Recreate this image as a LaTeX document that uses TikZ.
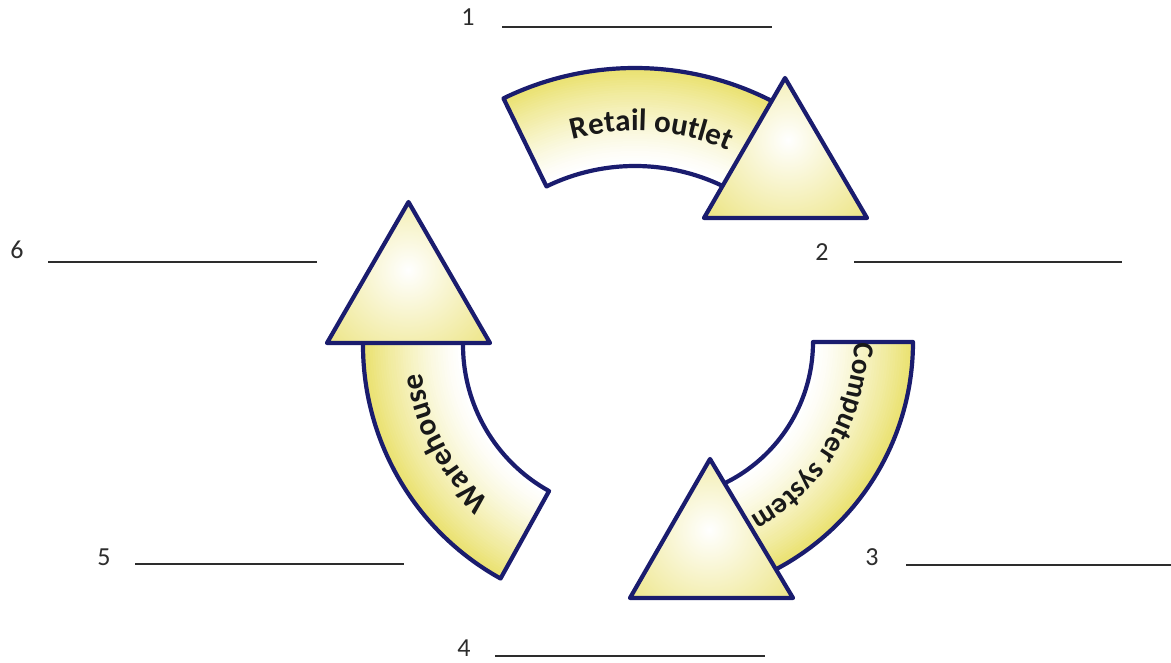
\documentclass[tikz,border=0pt]{standalone}
\usepackage{fontspec}
\setmainfont{Carlito}
\usetikzlibrary{decorations.text}
\definecolor{navy}{RGB}{26,28,110}
\definecolor{bandyel}{RGB}{233,224,105}
\definecolor{triyel}{RGB}{230,219,88}
\definecolor{linegray}{RGB}{45,45,45}
\newcommand\labfont{\bfseries\fontsize{31}{31}\selectfont}
\newcommand\labfontsm{\bfseries\fontsize{29}{29}\selectfont}
\tikzset{
  outline/.style={draw=navy, line width=4.2pt, line join=round},
  numlabel/.style={font=\fontsize{26}{26}\selectfont, text=linegray, inner sep=0pt},
  blank/.style={draw=linegray, line width=1.8pt},
  band/.style n args={4}{insert path={(#3:#1) arc[start angle=#3,end angle=#4,radius=#1] -- (#4:#2) arc[start angle=#4,end angle=#3,radius=#2] -- cycle}},
  bandtext/.style={decorate, decoration={text along path, text={#1}, text align=center, text color=black!90}},
}
\newcommand\bandfill[4]{%
  \begin{scope}
    \path[clip, band={#1}{#2}{#3}{#4}];
    \foreach \k in {0,...,40}{
      \pgfmathsetmacro\rr{#2+(#1-#2)*(1-\k/40)+3}
      \pgfmathtruncatemacro\pp{100*(1-\k/40)^1.3}
      \fill[bandyel!\pp!white] (0,0) circle[radius=\rr];
    }
  \end{scope}
  \draw[outline, band={#1}{#2}{#3}{#4}];
}
\newcommand\trifill[5]{% a b c highlight-x highlight-y
  \begin{scope}
    \clip (#1) -- (#2) -- (#3) -- cycle;
    \fill[triyel] (#1) -- (#2) -- (#3) -- cycle;
    \shade[inner color=white, outer color=triyel] (#4,#5) circle[radius=150];
  \end{scope}
  \draw[outline] (#1) -- (#2) -- (#3) -- cycle;
}
\begin{document}
\begin{tikzpicture}[x=1pt,y=1pt]
\useasboundingbox (0,0) rectangle (1171,662);
\fill[white] (0,0) rectangle (1171,662);

% Retail outlet arrow
\begin{scope}[shift={(635,294)}]
  \bandfill{300}{202}{116}{57}
\end{scope}
\coordinate (ra) at (704,444);
\coordinate (rb) at (867,444);
\coordinate (rc) at (785,584);
\trifill{ra}{rb}{rc}{788}{522}
\begin{scope}[shift={(635,294)}]
  \path[bandtext={|\labfont|Retail outlet}] (124:237) arc[start angle=124,end angle=48,radius=237];
\end{scope}

% Computer system arrow
\begin{scope}[shift={(656,320)}]
  \bandfill{257}{157}{0}{-70}
\end{scope}
\coordinate (ca) at (630,64);
\coordinate (cb) at (793,64);
\coordinate (cc) at (710,203);
\trifill{ca}{cb}{cc}{709}{132}
\begin{scope}[shift={(656,320)}]
  \path[bandtext={|\labfontsm|Computer system}] (5:198) arc[start angle=5,end angle=-67,radius=198];
\end{scope}

% Warehouse arrow
\begin{scope}[shift={(630,317)}]
  \bandfill{267}{167}{179}{241}
\end{scope}
\coordinate (wa) at (327,319);
\coordinate (wb) at (490,319);
\coordinate (wc) at (408.5,460);
\trifill{wa}{wb}{wc}{408}{392}
\begin{scope}[shift={(630,317)}]
  \path[bandtext={|\labfont|Warehouse}] (238:210) arc[start angle=238,end angle=178,radius=210];
\end{scope}

% numbered blanks
\node[numlabel] (n1) at (468,645) {1};
\coordinate (l1a) at (502,635); \coordinate (l1b) at (772,635);
\draw[blank] (l1a) -- (l1b);
\node[numlabel] (n2) at (822,410) {2};
\coordinate (l2a) at (854,400); \coordinate (l2b) at (1122,400);
\draw[blank] (l2a) -- (l2b);
\node[numlabel] (n3) at (872,105) {3};
\coordinate (l3a) at (906,97); \coordinate (l3b) at (1171,97);
\draw[blank] (l3a) -- (l3b);
\node[numlabel] (n4) at (464,14) {4};
\coordinate (l4a) at (495,6); \coordinate (l4b) at (765,6);
\draw[blank] (l4a) -- (l4b);
\node[numlabel] (n5) at (104,105) {5};
\coordinate (l5a) at (135,98); \coordinate (l5b) at (404,98);
\draw[blank] (l5a) -- (l5b);
\node[numlabel] (n6) at (17,412) {6};
\coordinate (l6a) at (48,400); \coordinate (l6b) at (317,400);
\draw[blank] (l6a) -- (l6b);
\end{tikzpicture}
\end{document}
